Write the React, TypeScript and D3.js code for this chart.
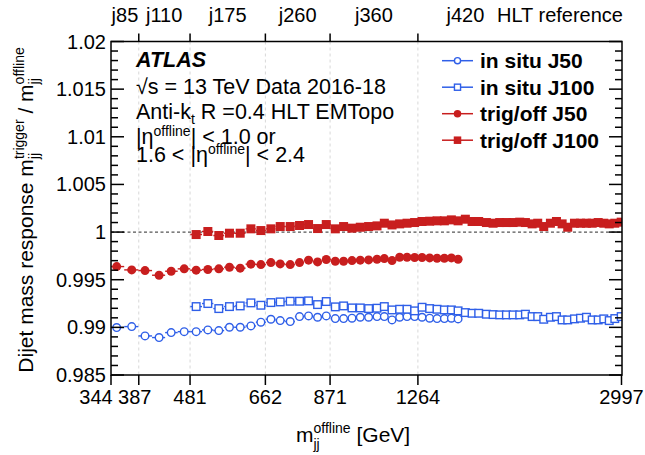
import React from 'react';
import * as d3 from 'd3';

// Dijet mass bin centres [GeV]
const massJ50 = [
  352.4, 375.6, 397.4, 421.8, 444.0, 469.2, 493.6, 518.7, 543.4, 568.5, 595.0, 622.6,
  649.5, 677.7, 705.0, 735.5, 765.2, 795.0, 826.0, 857.0, 890.4, 922.4, 955.8, 990.0,
  1025.6, 1062.8, 1096.2, 1132.7, 1169.8, 1207.1, 1246.6, 1286.4, 1328.6, 1371.0,
  1414.2, 1456.8, 1498.8,
];
const inSituJ50 = [
  0.98998, 0.99008, 0.98910, 0.98893, 0.98945, 0.98955, 0.98955, 0.98973, 0.98966, 0.99001,
  0.99001, 0.99015, 0.99054, 0.99085, 0.99071, 0.99061, 0.99113, 0.99120, 0.99106, 0.99120,
  0.99092, 0.99092, 0.99096, 0.99106, 0.99106, 0.99113, 0.99113, 0.99078, 0.99106, 0.99113,
  0.99113, 0.99106, 0.99096, 0.99092, 0.99092, 0.99096, 0.99089,
];
const trigOffJ50 = [
  0.99638, 0.99603, 0.99596, 0.99547, 0.99589, 0.99614, 0.99600, 0.99607, 0.99614, 0.99631,
  0.99621, 0.99663, 0.99659, 0.99680, 0.99666, 0.99659, 0.99680, 0.99705, 0.99687, 0.99712,
  0.99694, 0.99694, 0.99701, 0.99705, 0.99708, 0.99715, 0.99722, 0.99701, 0.99736, 0.99736,
  0.99733, 0.99733, 0.99729, 0.99725, 0.99725, 0.99729, 0.99715,
];

const massJ100 = [
  493.6, 518.7, 543.4, 568.5, 595.0, 622.6, 649.5, 677.7, 705.0, 735.5, 765.2, 795.0,
  826.0, 857.0, 890.4, 922.4, 955.8, 990.0, 1025.6, 1062.8, 1096.2, 1132.7, 1169.8, 1207.1,
  1246.6, 1286.4, 1328.6, 1371.0, 1414.2, 1456.8, 1498.8, 1545.7, 1590.4, 1635.6, 1690.0,
  1738.6, 1788.0, 1839.6, 1892.6, 1946.4, 1994.0, 2051.5, 2101.0, 2155.2, 2217.0, 2274.6,
  2330.0, 2386.0, 2455.0, 2518.6, 2583.0, 2646.7, 2715.0, 2780.0, 2845.0, 2913.0, 2993.0,
];
const inSituJ100 = [
  0.99218, 0.99250, 0.99197, 0.99218, 0.99225, 0.99257, 0.99232, 0.99260, 0.99267, 0.99274,
  0.99274, 0.99278, 0.99239, 0.99271, 0.99215, 0.99225, 0.99204, 0.99204, 0.99197, 0.99201,
  0.99218, 0.99183, 0.99190, 0.99190, 0.99173, 0.99211, 0.99197, 0.99190, 0.99183, 0.99183,
  0.99173, 0.99155, 0.99148, 0.99148, 0.99138, 0.99134, 0.99131, 0.99131, 0.99131, 0.99131,
  0.99138, 0.99113, 0.99113, 0.99085, 0.99106, 0.99113, 0.99078, 0.99078, 0.99089, 0.99096,
  0.99106, 0.99078, 0.99078, 0.99089, 0.99071, 0.99092, 0.99113,
];
const trigOffJ100 = [
  0.99974, 1.00006, 0.99964, 0.99988, 0.99988, 1.00034, 1.00016, 1.00034, 1.00058, 1.00058,
  1.00069, 1.00079, 1.00037, 1.00079, 1.00034, 1.00058, 1.00041, 1.00051, 1.00058, 1.00065,
  1.00093, 1.00075, 1.00086, 1.00093, 1.00100, 1.00111, 1.00114, 1.00118, 1.00118, 1.00128,
  1.00118, 1.00135, 1.00111, 1.00111, 1.00100, 1.00093, 1.00100, 1.00100, 1.00100, 1.00104,
  1.00100, 1.00086, 1.00093, 1.00058, 1.00093, 1.00111, 1.00086, 1.00051, 1.00093, 1.00093,
  1.00093, 1.00093, 1.00100, 1.00093, 1.00086, 1.00093, 1.00104,
];

// Axis ticks and trigger regions
const massTicks = [344, 387, 481, 662, 871, 1264, 2997];
const triggerNames = ['j85', 'j110', 'j175', 'j260', 'j360', 'j420'];
const triggerLabelMass = [365, 431, 564, 759, 1049, 1546];
const legendLabels = ['in situ J50', 'in situ J100', 'trig/off J50', 'trig/off J100'];

const BLUE = '#2f5fe8';
const RED = '#c81e1e';
const FONT = '"Liberation Sans", Arial, Helvetica, sans-serif';

type Marker = 'openCircle' | 'openSquare' | 'circle' | 'square';

function binEdges(m: number[]): [number, number][] {
  return m.map((c, i) => {
    const lo = i > 0 ? Math.sqrt(m[i - 1] * c) : c * Math.sqrt(c / m[i + 1]);
    const hi = i < m.length - 1 ? Math.sqrt(c * m[i + 1]) : c * Math.sqrt(c / m[i - 1]);
    return [lo, hi];
  });
}

function MarkerShape({ kind, cx, cy, color, size }: { kind: Marker; cx: number; cy: number; color: string; size: number }) {
  const sw = 1.4;
  if (kind === 'openCircle')
    return <circle cx={cx} cy={cy} r={size / 2 - sw / 2} fill="white" stroke={color} strokeWidth={sw} />;
  if (kind === 'circle') return <circle cx={cx} cy={cy} r={size / 2} fill={color} />;
  if (kind === 'openSquare')
    return (
      <rect x={cx - size / 2 + sw / 2} y={cy - size / 2 + sw / 2} width={size - sw} height={size - sw}
        fill="white" stroke={color} strokeWidth={sw} />
    );
  return <rect x={cx - size / 2} y={cy - size / 2} width={size} height={size} fill={color} />;
}

export default function App() {
  const left = 111, right = 622, top = 41.5, bottom = 375;
  const x = d3.scaleLog().domain([344, 2997]).range([left, right - 0.5]);
  const y = d3.scaleLinear().domain([0.985, 1.02]).range([bottom, top]);

  const series = [
    { mass: massJ50, vals: inSituJ50, color: BLUE, kind: 'openCircle' as Marker, size: 9 },
    { mass: massJ100, vals: inSituJ100, color: BLUE, kind: 'openSquare' as Marker, size: 9 },
    { mass: massJ50, vals: trigOffJ50, color: RED, kind: 'circle' as Marker, size: 9 },
    { mass: massJ100, vals: trigOffJ100, color: RED, kind: 'square' as Marker, size: 9 },
  ];

  const yTicks = d3.range(0, 36).map((i) => (985 + i) / 1000);
  const fmt = d3.format('~g');

  const w = (s: string, px: number) => {
    // Arial / Liberation Sans advance widths for the glyphs used in the titles
    const adv: Record<string, number> = {
      j: 0.222, t: 0.278, r: 0.333, i: 0.222, g: 0.556, e: 0.556, o: 0.556, f: 0.278, l: 0.222, n: 0.556,
    };
    return s.split('').reduce((a, c) => a + (adv[c] ?? 0.556), 0) * px;
  };
  const supFs = 14;

  return (
    <svg width={645} height={455} style={{ position: 'absolute', left: 0, top: 0, background: 'white' }}
      fontFamily={FONT}>
      <defs>
        <clipPath id="plotArea">
          <rect x={left} y={top} width={right - left} height={bottom - top} />
        </clipPath>
      </defs>

      {/* vertical guide lines at the trigger thresholds */}
      {massTicks.slice(1, -1).map((m) => (
        <line key={'g' + m} x1={x(m)} x2={x(m)} y1={top} y2={bottom} stroke="#d8d8d8" strokeWidth={1}
          strokeDasharray="3 3" />
      ))}
      {/* unity reference */}
      <line x1={left} x2={right} y1={y(1)} y2={y(1)} stroke="#555" strokeWidth={1.2} strokeDasharray="3 2.5" />

      {/* data */}
      <g clipPath="url(#plotArea)">
        {series.map((s, si) => {
          const edges = binEdges(s.mass);
          return (
            <g key={si}>
              {s.vals.map((v, i) => (
                <line key={'e' + i} x1={x(edges[i][0])} x2={x(edges[i][1])} y1={y(v)} y2={y(v)}
                  stroke={s.color} strokeWidth={1.4} />
              ))}
              {s.vals.map((v, i) => (
                <MarkerShape key={'m' + i} kind={s.kind} cx={x(s.mass[i])} cy={y(v)} color={s.color} size={s.size} />
              ))}
            </g>
          );
        })}
      </g>

      {/* frame */}
      <rect x={left} y={top} width={right - left} height={bottom - top} fill="none" stroke="black" strokeWidth={1.5} />

      {/* y ticks (left and right) */}
      {yTicks.map((t, i) => {
        const major = i % 5 === 0;
        const len = major ? 13 : 7;
        return (
          <g key={'yt' + i}>
            <line x1={left} x2={left + len} y1={y(t)} y2={y(t)} stroke="black" strokeWidth={1.5} />
            <line x1={right} x2={right - len} y1={y(t)} y2={y(t)} stroke="black" strokeWidth={1.5} />
            {major && (
              <text x={left - 5} y={y(t) + 7} textAnchor="end" fontSize={20}>{fmt(t)}</text>
            )}
          </g>
        );
      })}

      {/* x ticks bottom and top */}
      {massTicks.map((m, i) => (
        <g key={'xt' + m}>
          <line x1={x(m)} x2={x(m)} y1={bottom} y2={bottom + 10} stroke="black" strokeWidth={1.5} />
          {i > 0 && i < massTicks.length - 1 && (
            <line x1={x(m)} x2={x(m)} y1={top} y2={top - 8} stroke="black" strokeWidth={1.5} />
          )}
          <text x={x(m) + (i === 0 ? -15 : i === 1 ? -4 : 0)} y={404} textAnchor="middle" fontSize={20}>{m}</text>
        </g>
      ))}
      {triggerNames.map((n, i) => (
        <text key={n} x={x(triggerLabelMass[i])} y={22} textAnchor="middle" fontSize={20}>{n}</text>
      ))}
      <text x={497} y={22} fontSize={20}>HLT reference</text>

      {/* x title */}
      <text x={296} y={442} fontSize={21}>
        m
        <tspan fontSize={supFs} dy={7}>jj</tspan>
        <tspan fontSize={supFs} dx={-w('jj', supFs)} dy={-16}>offline</tspan>
        <tspan dy={9}> [GeV]</tspan>
      </text>

      {/* y title */}
      <text transform="translate(33,210) rotate(-90)" textAnchor="middle" fontSize={21}>
        Dijet mass response m
        <tspan fontSize={supFs} dy={6}>jj</tspan>
        <tspan fontSize={supFs} dx={-w('jj', supFs)} dy={-15}>trigger</tspan>
        <tspan dy={9}> / m</tspan>
        <tspan fontSize={supFs} dy={6}>jj</tspan>
        <tspan fontSize={supFs} dx={-w('jj', supFs)} dy={-15}>offline</tspan>
      </text>

      {/* labels */}
      <g fontSize={21.5}>
        <text x={136} y={66.5} fontWeight="bold" fontStyle="italic">ATLAS</text>
        <text x={136} y={94}>√s = 13 TeV Data 2016-18</text>
        <text x={136} y={119}>
          Anti-k<tspan fontSize={14} dy={5}>t</tspan><tspan dy={-5}> R =0.4 HLT EMTopo</tspan>
        </text>
        <text x={136} y={143.5}>
          |η<tspan fontSize={14} dy={-8}>offline</tspan><tspan dy={8}>| &lt; 1.0 or</tspan>
        </text>
        <text x={136} y={162}>
          1.6 &lt; |η<tspan fontSize={14} dy={-8}>offline</tspan><tspan dy={8}>| &lt; 2.4</tspan>
        </text>
      </g>

      {/* legend */}
      {legendLabels.map((lab, i) => {
        const cy = 60.7 + i * 26.5;
        const s = series[i];
        return (
          <g key={lab}>
            <line x1={442} x2={473} y1={cy} y2={cy} stroke={s.color} strokeWidth={1.5} />
            <MarkerShape kind={s.kind} cx={457.5} cy={cy} color={s.color} size={7.5} />
            <text x={480} y={cy + 7.5} fontSize={21} fontWeight="bold">{lab}</text>
          </g>
        );
      })}
    </svg>
  );
}
